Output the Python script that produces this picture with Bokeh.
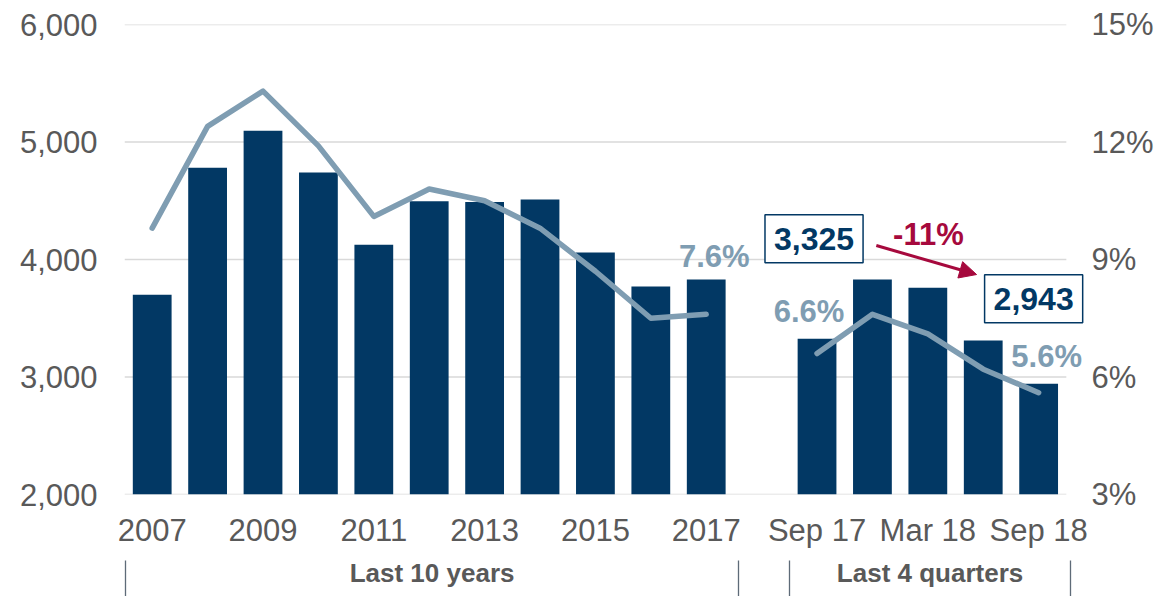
from bokeh.plotting import figure
from bokeh.models import (Range1d, LinearAxis, FixedTicker, NumeralTickFormatter,
                          Label, Arrow, NormalHead, ColumnDataSource)
from bokeh.embed import file_html
from bokeh.resources import INLINE

# ---------------- data ----------------
periods = ["2007", "2008", "2009", "2010", "2011", "2012", "2013", "2014", "2015",
           "2016", "2017", "Sep 17", "Dec 17", "Mar 18", "Jun 18", "Sep 18"]
volumes = [3700, 4780, 5095, 4740, 4125, 4495, 4490, 4510, 4060, 3770, 3830,
           3325, 3830, 3760, 3310, 2943]
rates = [9.8, 12.4, 13.3, 11.9, 10.1, 10.8, 10.5, 9.8, 8.7, 7.5, 7.6,
         6.6, 7.6, 7.1, 6.2, 5.6]
groups = ["Last 10 years", "Last 4 quarters"]
left_ticks = [2000, 3000, 4000, 5000, 6000]
right_ticks = [3, 6, 9, 12, 15]
shown_periods = ["2007", "2009", "2011", "2013", "2015", "2017", "Sep 17", "Mar 18", "Sep 18"]

N_YEARS = 11
xs = list(range(N_YEARS)) + list(range(N_YEARS + 1, len(periods) + 1))

NAVY = "#023864"
LINE = "#7F9DB2"
GRAY = "#595959"
GRID = "#D9D9D9"
RED = "#A6093D"
FONT = "Liberation Sans"

x_lo, x_hi = xs[0] - 0.5, xs[-1] + 0.5
p = figure(width=1163, height=596, output_backend="svg", toolbar_location=None,
           x_range=Range1d(x_lo, x_hi + 0.4), y_range=Range1d(2000, 6000),
           min_border_left=124, min_border_right=75, min_border_top=24, min_border_bottom=102)
p.outline_line_color = None
p.background_fill_color = "white"
p.border_fill_color = "white"

p.extra_y_ranges = {"pct": Range1d(3, 15)}

# horizontal grid lines (only across the category area)
p.xgrid.grid_line_color = None
p.ygrid.grid_line_color = None
p.segment(x0=[x_lo] * len(left_ticks), x1=[x_hi] * len(left_ticks), y0=left_ticks, y1=left_ticks,
          line_color=GRID, line_width=1.5)

# bars
src = ColumnDataSource(dict(x=xs, v=volumes))
p.vbar(x="x", top="v", bottom=2000, width=0.7, source=src, fill_color=NAVY, line_color=None)

# line (two segments)
p.line(xs[:N_YEARS], rates[:N_YEARS], y_range_name="pct", line_color=LINE, line_width=5.5,
       line_join="round", line_cap="round")
p.line(xs[N_YEARS:], rates[N_YEARS:], y_range_name="pct", line_color=LINE, line_width=5.5,
       line_join="round", line_cap="round")

# left axis
la = p.yaxis[0]
la.ticker = FixedTicker(ticks=left_ticks)
la.formatter = NumeralTickFormatter(format="0,0")
la.axis_line_color = None
la.major_tick_line_color = None
la.minor_tick_line_color = None
la.major_tick_out = 0
la.major_tick_in = 0
la.major_label_text_font = FONT
la.major_label_text_font_size = "31px"
la.major_label_text_color = GRAY
la.major_label_standoff = 27

# right axis
ra = LinearAxis(y_range_name="pct", ticker=FixedTicker(ticks=right_ticks),
                major_label_overrides={t: f"{t}%" for t in right_ticks})
ra.axis_line_color = None
ra.major_tick_line_color = None
ra.minor_tick_line_color = None
ra.major_tick_out = 0
ra.major_tick_in = 0
ra.major_label_text_font = FONT
ra.major_label_text_font_size = "31px"
ra.major_label_text_color = GRAY
ra.major_label_standoff = 3
p.add_layout(ra, "right")

# bottom axis
shown_x = [xs[periods.index(s)] for s in shown_periods]
xa = p.xaxis[0]
xa.ticker = FixedTicker(ticks=shown_x)
xa.major_label_overrides = {x: s for x, s in zip(shown_x, shown_periods)}
xa.axis_line_color = None
xa.major_tick_line_color = None
xa.minor_tick_line_color = None
xa.major_tick_out = 0
xa.major_tick_in = 0
xa.major_label_text_font = FONT
xa.major_label_text_font_size = "31px"
xa.major_label_text_color = GRAY
xa.major_label_standoff = 18

# group axis with separators
sep = [xs[0] - 0.477, xs[N_YEARS - 1] + 0.58, xs[N_YEARS] - 0.5, xs[-1] + 0.58]
centers = [(sep[0] + sep[1]) / 2, (sep[2] + sep[3]) / 2]
ga = LinearAxis(ticker=FixedTicker(ticks=centers, minor_ticks=sep),
                major_label_overrides={c: g for c, g in zip(centers, groups)})
ga.axis_line_color = None
ga.major_tick_line_color = None
ga.major_tick_out = 0
ga.major_tick_in = 0
ga.minor_tick_line_color = "#5E6B78"
ga.minor_tick_line_width = 1.3
ga.minor_tick_in = -10
ga.minor_tick_out = 46
ga.major_label_text_font = FONT
ga.major_label_text_font_style = "bold"
ga.major_label_text_font_size = "26px"
ga.major_label_text_color = GRAY
ga.major_label_standoff = -39
p.add_layout(ga, "below")

# annotations
i_a = N_YEARS          # Sep 17
i_b = len(periods) - 1  # Sep 18
for i, dx, dy in [(N_YEARS - 1, 8, 58), (i_a, -8, 42), (i_b, 8, 36)]:
    p.add_layout(Label(x=xs[i], y=rates[i], y_range_name="pct", text=f"{rates[i]:.1f}%",
                       x_offset=dx, y_offset=dy, text_align="center", text_baseline="middle",
                       text_font=FONT, text_font_style="bold", text_font_size="31px",
                       text_color=LINE))

for i, dx, dy in [(i_a, -3, 100), (i_b, -5, 85)]:
    p.add_layout(Label(x=xs[i], y=volumes[i], text=f"{volumes[i]:,}",
                       x_offset=dx, y_offset=dy, text_align="center", text_baseline="middle",
                       text_font=FONT, text_font_style="bold", text_font_size="32px",
                       text_color=NAVY, border_line_color=NAVY, border_line_width=1.5,
                       background_fill_color="white", padding=dict(x=9, y=13)))

change = round((volumes[i_b] / volumes[i_a] - 1) * 100)
p.add_layout(Arrow(end=NormalHead(size=17, fill_color=RED, line_color=RED),
                   x_start=xs[i_a] + 1.07, y_start=4119, x_end=xs[i_a] + 2.88, y_end=3872,
                   line_color=RED, line_width=3))
p.add_layout(Label(x=xs[i_a] + 2.01, y=4213, text=f"{change}%", text_align="center",
                   text_baseline="middle", text_font=FONT, text_font_style="bold",
                   text_font_size="31px", text_color=RED))

open("out.html", "w").write(file_html(p, INLINE))
